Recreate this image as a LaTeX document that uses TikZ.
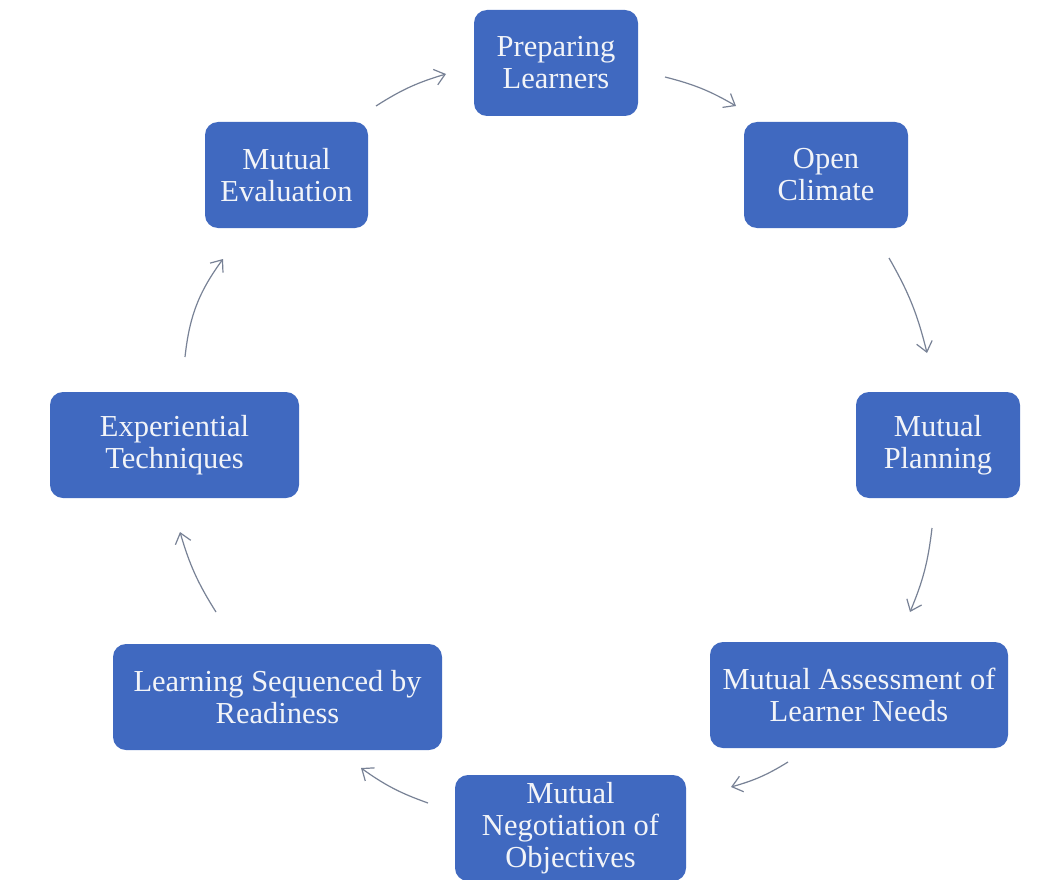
\documentclass[tikz,border=0pt]{standalone}
\usepackage{fontspec}
\setmainfont{Liberation Serif}
\usetikzlibrary{arrows.meta}
\definecolor{boxblue}{RGB}{64,105,192}
\definecolor{arrowgray}{RGB}{120,130,150}
\definecolor{textwhite}{RGB}{242,244,248}
\begin{document}
\begin{tikzpicture}[x=1pt,y=-1pt,
  box/.style={draw=none,fill=boxblue,rounded corners=13pt,text=textwhite,
    font=\fontsize{30.5}{32}\selectfont,align=center,inner sep=0pt,
    minimum height=106pt},
  flow/.style={draw=arrowgray,line width=1.2pt,
    -{Straight Barb[length=10pt,width=16pt,line width=1.2pt]},bend left=8}]
\useasboundingbox[fill=white] (0,0) rectangle (1046,880);
\node[box,minimum width=164pt] (prep) at (556,63) {Preparing\\Learners};
\node[box,minimum width=164pt] (open) at (826,175) {Open\\Climate};
\node[box,minimum width=164pt] (plan) at (938,445) {Mutual\\Planning};
\node[box,minimum width=298pt] (assess) at (859,695) {Mutual Assessment of\\Learner Needs};
\node[box,minimum width=231pt] (nego) at (570.5,828) {Mutual\\Negotiation of\\Objectives};
\node[box,minimum width=329pt] (learn) at (277.5,697) {Learning Sequenced by\\Readiness};
\node[box,minimum width=249pt] (exp) at (174.5,445) {Experiential\\Techniques};
\node[box,minimum width=163pt] (eval) at (286.5,175) {Mutual\\Evaluation};
\coordinate (a1s) at (665,77);  \coordinate (a1e) at (736,106);
\coordinate (a2s) at (889,258); \coordinate (a2e) at (927,353);
\coordinate (a3s) at (932,528); \coordinate (a3e) at (910,612);
\coordinate (a4s) at (788,762); \coordinate (a4e) at (731,787);
\coordinate (a5s) at (428,803); \coordinate (a5e) at (361,768);
\coordinate (a6s) at (216,612); \coordinate (a6e) at (180,532);
\coordinate (a7s) at (185,357); \coordinate (a7e) at (223,259);
\coordinate (a8s) at (376,106); \coordinate (a8e) at (446,74);
\draw[flow] (a1s) to (a1e);
\draw[flow] (a2s) to (a2e);
\draw[flow] (a3s) to (a3e);
\draw[flow] (a4s) to (a4e);
\draw[flow] (a5s) to (a5e);
\draw[flow] (a6s) to (a6e);
\draw[flow,bend left=15] (a7s) to (a7e);
\draw[flow] (a8s) to (a8e);
\end{tikzpicture}
\end{document}
